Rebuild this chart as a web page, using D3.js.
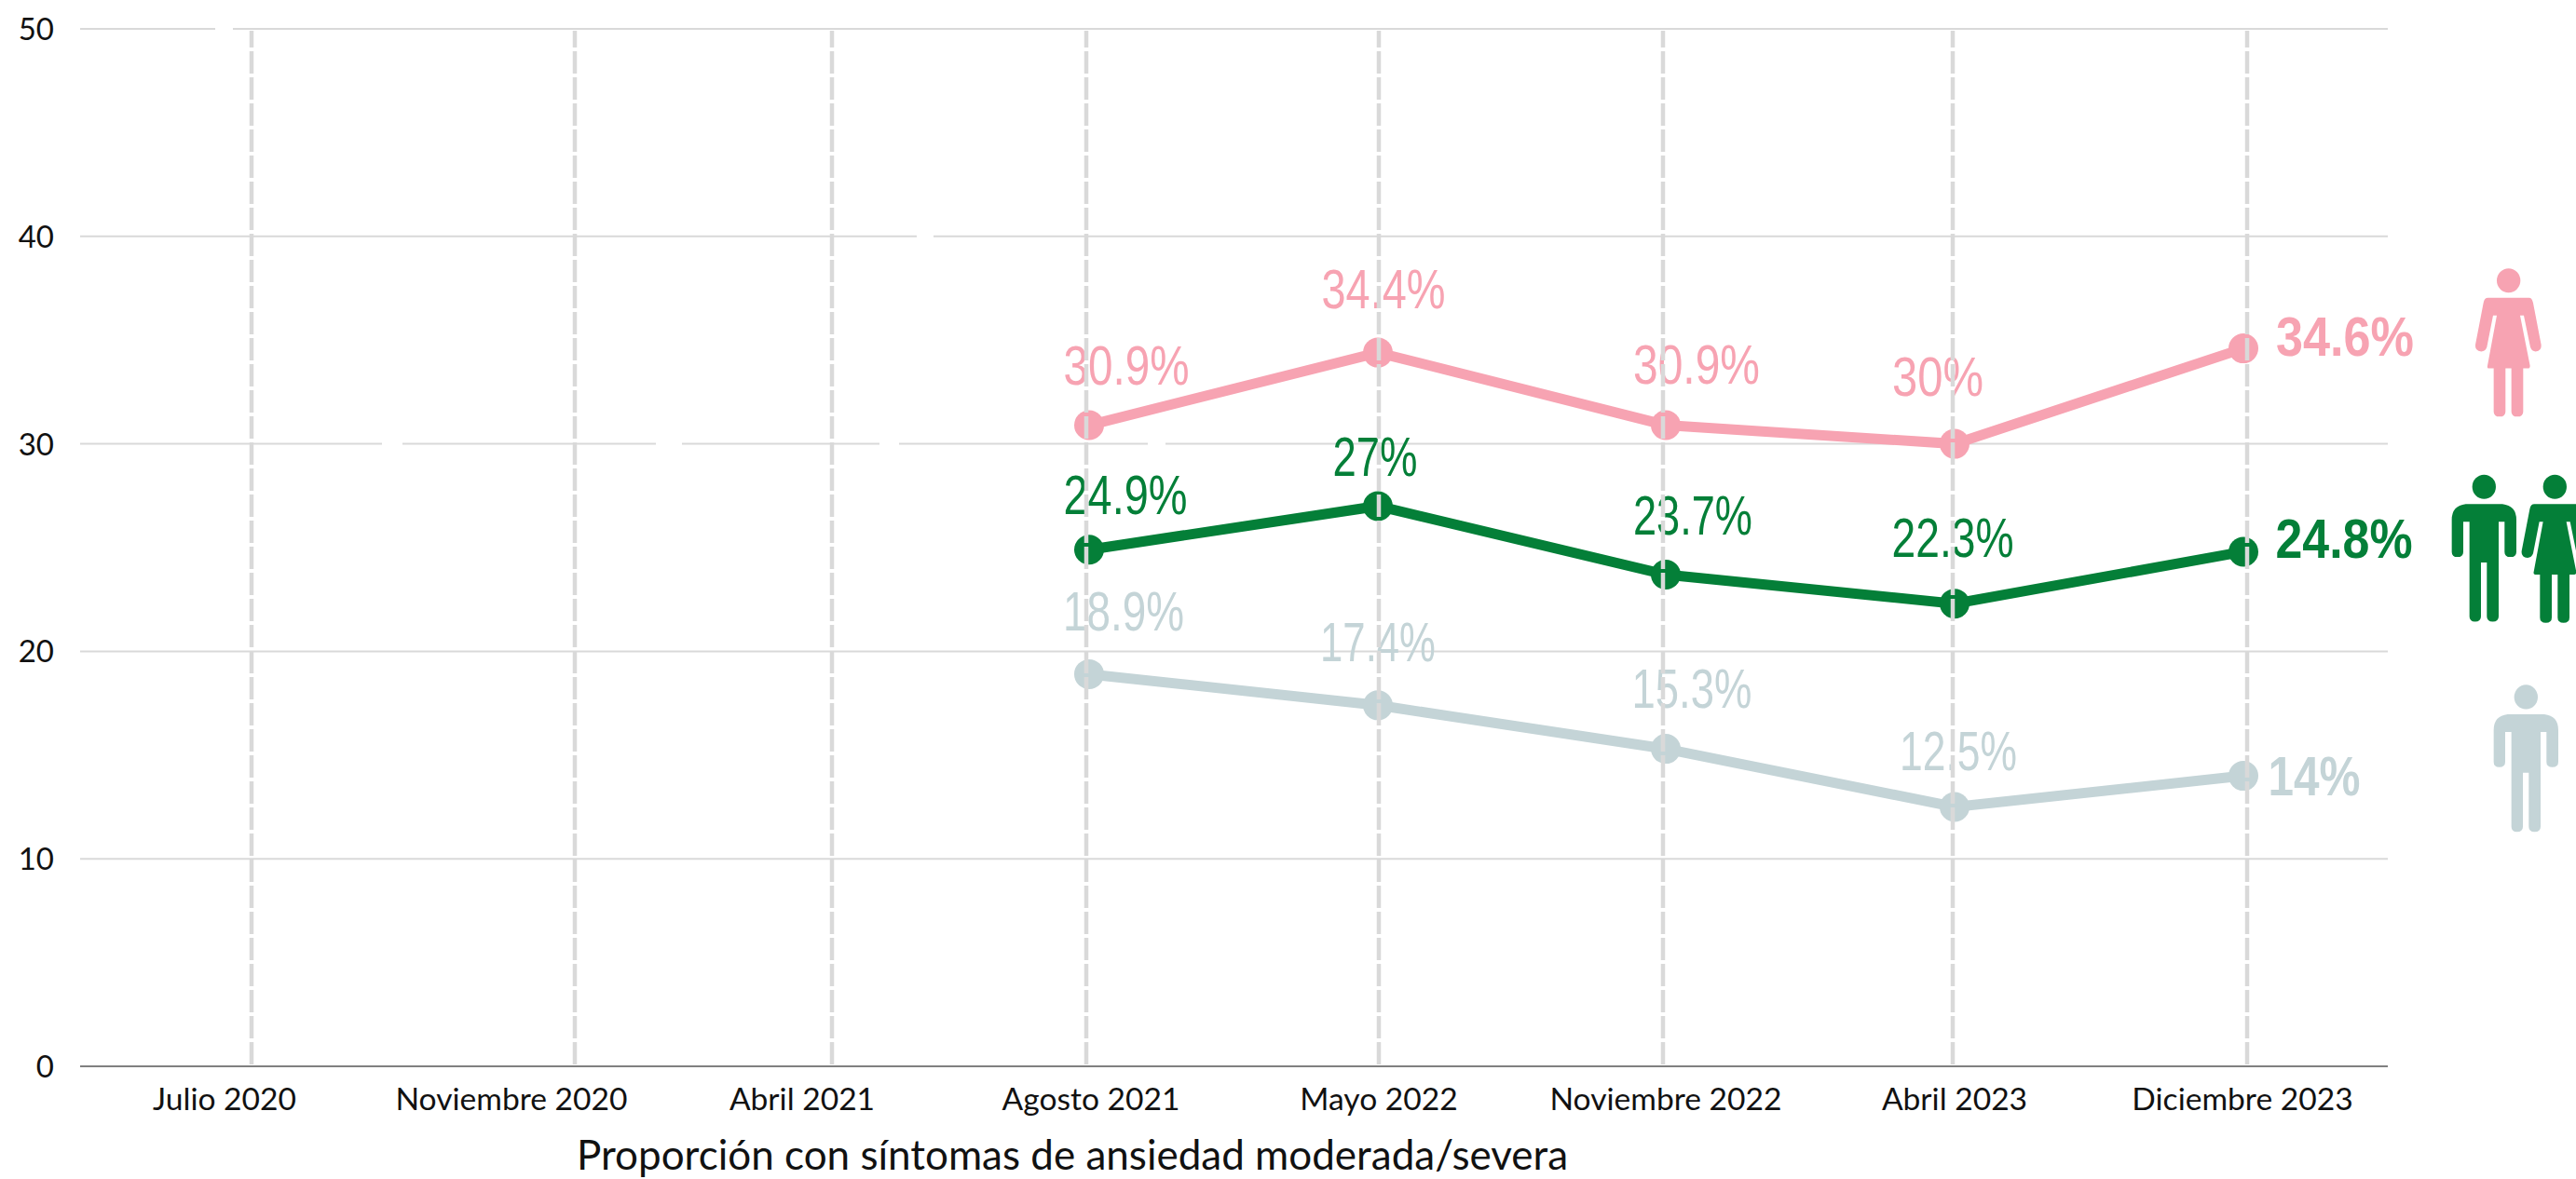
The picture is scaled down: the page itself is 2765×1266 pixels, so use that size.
<!DOCTYPE html>
<html><head><meta charset="utf-8">
<script src="https://cdn.jsdelivr.net/npm/d3@7"></script>
<style>html,body{margin:0;background:#fff}svg{display:block}</style></head>
<body><svg id="c" width="2765" height="1266"></svg>
<script>
const categories=["Julio 2020","Noviembre 2020","Abril 2021","Agosto 2021","Mayo 2022","Noviembre 2022","Abril 2023","Diciembre 2023"];
const yTicks=[0,10,20,30,40,50];
const women=[null,null,null,30.9,34.4,30.9,30,34.6];
const both=[null,null,null,24.9,27,23.7,22.3,24.8];
const men=[null,null,null,18.9,17.4,15.3,12.5,14];
const womenLabels=["30.9%","34.4%","30.9%","30%","34.6%"];
const bothLabels=["24.9%","27%","23.7%","22.3%","24.8%"];
const menLabels=["18.9%","17.4%","15.3%","12.5%","14%"];
const title="Proporción con síntomas de ansiedad moderada/severa";
const pink="#F7A3B2",green="#047F38",gray="#C4D4D7";

const svg=d3.select("#c");
const y=d3.scaleLinear().domain([0,50]).range([1145,31]);
const xGrid=d3.scaleOrdinal().domain(categories).range([270,617,893,1166,1480,1785,2096,2412]);
const xPoint=d3.scaleOrdinal().domain(categories).range([270,617,893,1169,1479,1788,2098,2408]);
const xLabel=d3.scaleOrdinal().domain(categories).range([241,549,861,1171,1480,1788,2098,2407]);
const labelFont="'Lato'";
const numFont="'Liberation Sans'";

svg.append("g").selectAll("line").data(yTicks.filter(d=>d>0)).join("line")
 .attr("x1",86).attr("x2",2563).attr("y1",y).attr("y2",y).attr("stroke","#d9d9d9").attr("stroke-width",2);
// small breaks in the reference's gridlines
const breaks=[[50,231,250],[40,984,1002],[30,410,432],[30,704,732],[30,944,965],[30,1232,1251]];
svg.append("g").selectAll("rect").data(breaks).join("rect")
 .attr("x",d=>d[1]).attr("width",d=>d[2]-d[1]).attr("y",d=>y(d[0])-3).attr("height",6).attr("fill","#fff");
svg.append("line").attr("x1",86).attr("x2",2563).attr("y1",y(0)).attr("y2",y(0)).attr("stroke","#808080").attr("stroke-width",2);
svg.append("g").selectAll("text").data(yTicks).join("text")
 .attr("x",58).attr("y",d=>y(d)+12).attr("text-anchor","end").attr("font-family",labelFont).attr("font-size",33).attr("fill","#111").text(d=>d);
svg.append("g").selectAll("text").data(categories).join("text")
 .attr("x",d=>xLabel(d)).attr("y",1192).attr("text-anchor","middle").attr("font-family",labelFont).attr("font-size",33.6).attr("fill","#111").text(d=>d);
svg.append("text").attr("x",1151).attr("y",1256).attr("text-anchor","middle").attr("font-family",labelFont).attr("font-size",44).attr("fill","#111").text(title);

const line=d3.line().defined(d=>d.v!=null).x(d=>xPoint(d.c)).y(d=>y(d.v));
const series=[
 {vals:women,labels:womenLabels,col:pink,cx:[1209,1485,1821,2080,2517],base:[413,331,412,425,382],w:[135,133,136,98,148]},
 {vals:both,labels:bothLabels,col:green,cx:[1208,1476,1817,2096,2516],base:[552,511,574,598,599],w:[133,91,128,131,147]},
 {vals:men,labels:menLabels,col:gray,cx:[1206,1479,1816,2102,2484],base:[677,710,760,827,854],w:[130,124,129,126,99]}
];
series.forEach(s=>{
 const pts=categories.map((c,i)=>({c,v:s.vals[i]}));
 svg.append("path").attr("d",line(pts)).attr("fill","none").attr("stroke",s.col).attr("stroke-width",11);
 const valid=pts.filter(d=>d.v!=null);
 svg.append("g").selectAll("circle").data(valid).join("circle")
  .attr("cx",d=>xPoint(d.c)).attr("cy",d=>y(d.v)).attr("r",16).attr("fill",s.col);
 svg.append("g").selectAll("text").data(valid).join("text")
  .attr("text-anchor","middle").attr("font-family",numFont).attr("font-size",59)
  .attr("font-weight",(d,i)=>i==4?700:400).attr("fill",s.col).text((d,i)=>s.labels[i])
  .attr("transform",function(d,i){
    const k=s.w[i]/this.getComputedTextLength();
    return `translate(${s.cx[i]},${s.base[i]}) scale(${k},1)`;
  });
});
svg.append("g").selectAll("line").data(categories).join("line")
 .attr("x1",d=>xGrid(d)).attr("x2",d=>xGrid(d)).attr("y1",33).attr("y2",1143)
 .attr("stroke","#d9d9d9").attr("stroke-width",4.5).attr("stroke-dasharray","24 4").attr("stroke-dashoffset",6);

const womanIcon="M362 142L494 142Q503 142 507 155L533 262Q535 278 515 279Q503 279 498 268L477 187L465 187L497 315Q497 322 490 322L475 322L475 432Q475 445 456 445Q437 445 437 432L437 322L418 322L418 432Q418 445 399 445Q380 445 380 432L380 322L365 322Q358 322 360 315L390 187L378 187L358 268Q353 279 340 279Q319 278 321 262L347 155Q350 142 362 142Z";
const manIcon="M290 668L408 668Q453 672 453 708L453 790Q453 803 434 803Q415 803 415 790L415 713L396 713L396 955Q396 968 377 968Q358 968 358 955L358 817L339 817L339 955Q339 968 320 968Q302 968 302 955L302 713L282 713L282 790Q282 803 263 803Q245 803 245 790L245 708Q245 672 290 668Z";
const icons=svg.append("g").attr("transform","translate(2550,260) scale(0.3333,0.42105)");
function person(path,hx,hy,dx,dy,col){
 const g=icons.append("g").attr("fill",col).attr("transform",`translate(${dx},${dy})`);
 g.append("ellipse").attr("cx",hx).attr("cy",hy).attr("rx",38).attr("ry",31);
 g.append("path").attr("d",path);
}
person(womanIcon,428,98,0,0,pink);
person(manIcon,349,624,0,0,green);
person(womanIcon,428,98,149,526,green);
person(manIcon,349,624,135,536,gray);
</script></body></html>
